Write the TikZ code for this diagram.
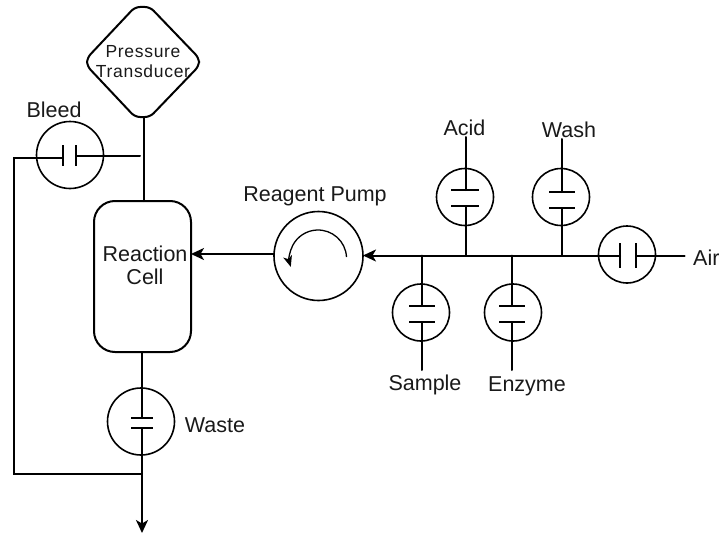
\documentclass[tikz,border=0pt]{standalone}
\usepackage{fontspec}
\setmainfont{Liberation Sans}
\usetikzlibrary{arrows.meta}
\tikzset{
  pipe/.style={line width=2pt,line cap=round},
  plate/.style={line width=2pt},
  valve/.style={circle,draw,line width=1.6pt,inner sep=0pt,outer sep=0pt,minimum size=#1},
  lbl/.style={inner sep=0pt,font=\fontsize{21.5}{23}\selectfont,text=black!90},
  tip/.style={-{Stealth[length=13pt,width=12pt,inset=3.5pt]}}
}
\begin{document}
\begin{tikzpicture}[x=1pt,y=-1pt]
\useasboundingbox (0,0) rectangle (719,535);
% main bodies
\node[draw,line width=2pt,minimum width=97pt,minimum height=151pt,rounded corners=21pt,inner sep=0pt,outer sep=0pt] (cell) at (142.5,276.5) {};
\node[lbl,align=center] (celltext) at (145,265) {Reaction\\Cell};
\draw[line width=2pt,rounded corners=5pt] (135,7) coordinate (pa) -- (150,7) -- (199,58) -- (199,66) -- (150,117) -- (135,117) -- (87,66) -- (87,58) -- cycle;
\node[inner sep=0pt,align=center,font=\addfontfeatures{LetterSpace=4}\fontsize{17.5}{20.5}\selectfont,text=black!90] (ptext) at (143,61.5) {Pressure\\Transducer};
\coordinate (pbot) at (144,117);
\node[valve=67pt] (bleed) at (70,155) {};
\node[valve=89pt] (pump) at (318.5,256) {};
\node[valve=67pt] (waste) at (141,421.5) {};
\node[valve=57pt] (acid) at (465,197) {};
\node[valve=57pt] (wash) at (561,197) {};
\node[valve=57pt] (air) at (627,254.5) {};
\node[valve=57pt] (sample) at (421,312.5) {};
\node[valve=57pt] (enzyme) at (513,312.5) {};
% pressure line
\coordinate (celltop) at (144,201);
\draw[pipe] (pbot) -- (celltop);
% bleed valve
\coordinate (bl1) at (63,158); \coordinate (bl2) at (76,155.5);
\coordinate (bljoin) at (140,155.5);
\coordinate (blcorner) at (14,158); \coordinate (wjoin) at (142,473.5); \coordinate (wcorner) at (14,473.5);
\draw[plate] (63,145) -- (63,166); \draw[plate] (76,145) -- (76,166);
\draw[pipe] (bljoin) -- (bl2);
\draw[pipe] (bl1) -- (blcorner) -- (wcorner) -- (wjoin);
% waste valve
\coordinate (cellbot) at (142,352); \coordinate (wp1) at (142,418); \coordinate (wp2) at (142,428); \coordinate (out) at (142,533);
\draw[plate] (131,418) -- (153,418); \draw[plate] (131,428) -- (153,428);
\draw[pipe] (cellbot) -- (wp1);
\draw[pipe,tip] (wp2) -- (out);
% pump
\draw[line width=1.3pt,-{Stealth[length=11pt,width=9pt,inset=3pt]}] (346.5,257) arc[start angle=-3,end angle=-197,radius=28.5];
\draw[pipe,tip] (pump.west |- 0,254) -- (cell.east |- 0,254);
% reagent bus
\coordinate (airp1) at (620,255.5); \coordinate (airp2) at (636,255.5); \coordinate (airend) at (684.5,255.5);
\draw[plate] (620,243) -- (620,268); \draw[plate] (636,243) -- (636,268);
\draw[pipe] (airend) -- (airp2);
\draw[pipe,tip] (airp1) -- (pump.east |- 0,255.5);
% acid
\coordinate (acidtop) at (466,137); \coordinate (acidp1) at (466,190); \coordinate (acidp2) at (466,206); \coordinate (acidj) at (466,255.5);
\draw[plate] (451,190) -- (479,190); \draw[plate] (451,206) -- (479,206);
\draw[pipe] (acidtop) -- (acidp1); \draw[pipe] (acidp2) -- (acidj);
% wash
\coordinate (washtop) at (562,139); \coordinate (washp1) at (562,192); \coordinate (washp2) at (562,208); \coordinate (washj) at (562,255.5);
\draw[plate] (549,192) -- (575,192); \draw[plate] (549,208) -- (575,208);
\draw[pipe] (washtop) -- (washp1); \draw[pipe] (washp2) -- (washj);
% sample
\coordinate (samj) at (422,255.5); \coordinate (samp1) at (422,306); \coordinate (samp2) at (422,322); \coordinate (sambot) at (422,370);
\draw[plate] (409,306) -- (435,306); \draw[plate] (409,322) -- (435,322);
\draw[pipe] (samj) -- (samp1); \draw[pipe] (samp2) -- (sambot);
% enzyme
\coordinate (enzj) at (512,255.5); \coordinate (enzp1) at (512,306); \coordinate (enzp2) at (512,322); \coordinate (enzbot) at (512,370);
\draw[plate] (499,306) -- (525,306); \draw[plate] (499,322) -- (525,322);
\draw[pipe] (enzj) -- (enzp1); \draw[pipe] (enzp2) -- (enzbot);
% labels
\node[lbl] (lbleed) at (54,110) {Bleed};
\node[lbl] (lreagent) at (315,196) {Reagent Pump};
\node[lbl] (lacid) at (464.5,127.5) {Acid};
\node[lbl] (lwash) at (569,129.5) {Wash};
\node[lbl,anchor=west] (lair) at (693,257.5) {Air};
\node[lbl] (lsample) at (425,384.5) {Sample};
\node[lbl] (lenzyme) at (527,386) {Enzyme};
\node[lbl] (lwaste) at (215,425) {Waste};
\end{tikzpicture}
\end{document}
